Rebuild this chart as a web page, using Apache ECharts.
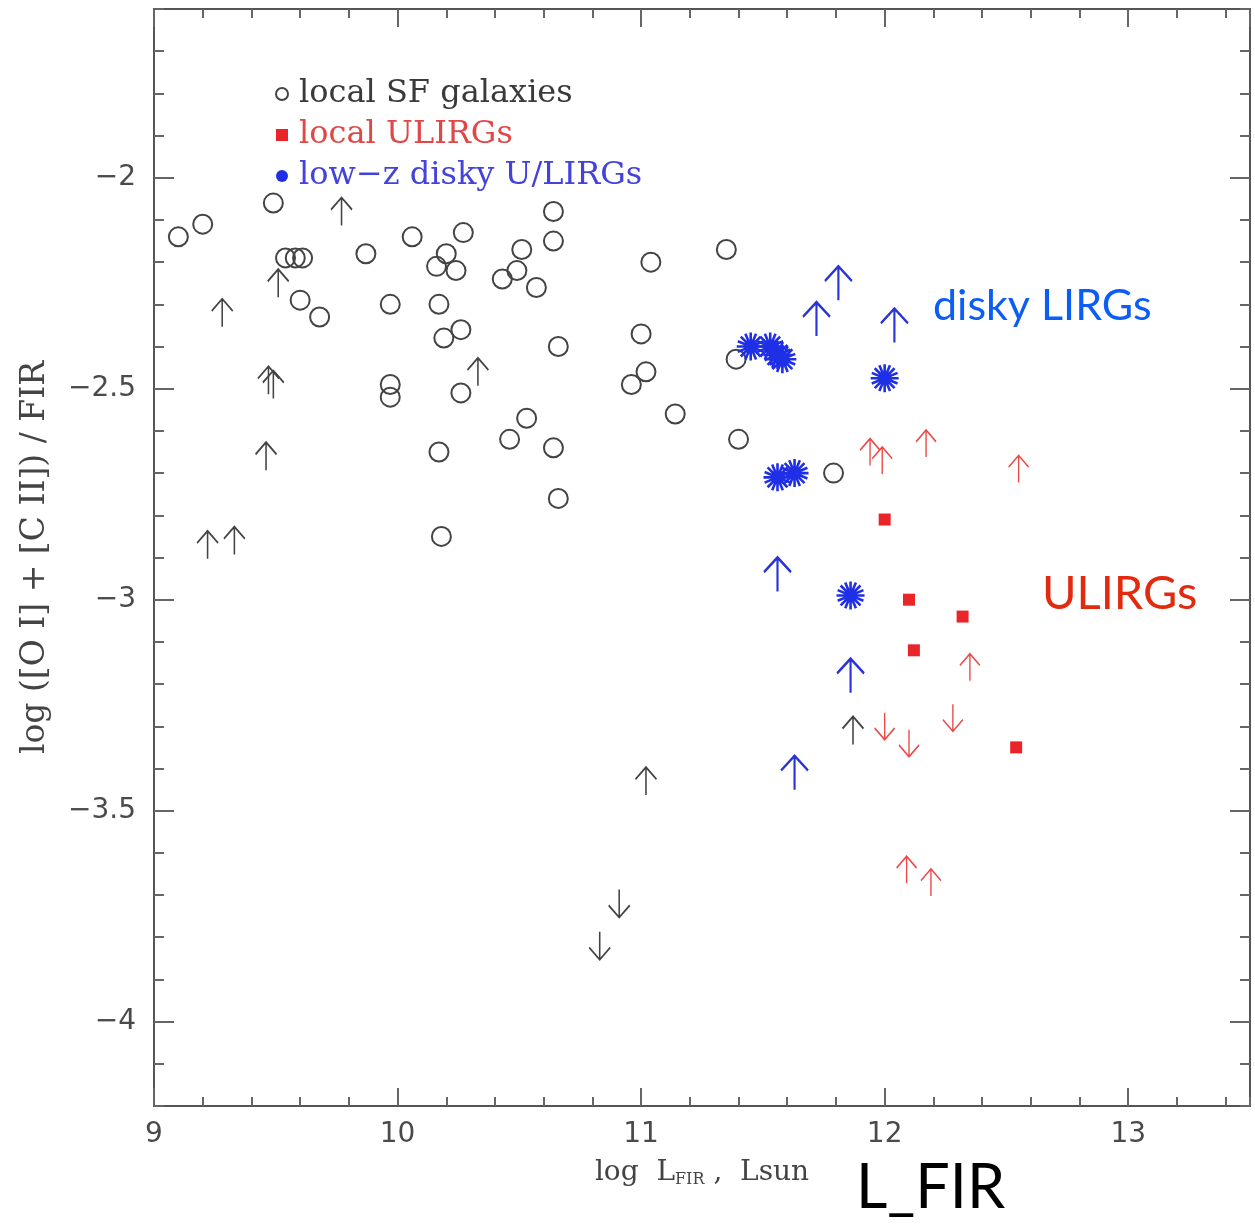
<!DOCTYPE html>
<html>
<head>
<meta charset="utf-8">
<script src="https://cdn.jsdelivr.net/npm/echarts@6/dist/echarts.min.js"></script>
<style>
  html, body { margin: 0; padding: 0; background: #fff; }
  #chart { width: 1255px; height: 1229px; }
</style>
</head>
<body>
<div id="chart"></div>
<script>
// x: log L_FIR, y: log([O I]+[C II])/FIR
var sfGalaxies = [
  [9.10,-2.14],[9.20,-2.11],[9.49,-2.06],[9.54,-2.19],[9.58,-2.19],[9.61,-2.19],
  [9.60,-2.29],[9.68,-2.33],[9.87,-2.18],[9.97,-2.30],[9.97,-2.49],[9.97,-2.52],
  [10.06,-2.14],[10.16,-2.21],[10.20,-2.18],[10.24,-2.22],[10.17,-2.30],[10.19,-2.38],
  [10.26,-2.36],[10.27,-2.13],[10.17,-2.65],[10.18,-2.85],[10.26,-2.51],[10.43,-2.24],
  [10.49,-2.22],[10.51,-2.17],[10.57,-2.26],[10.64,-2.08],[10.64,-2.15],[10.66,-2.40],
  [10.46,-2.62],[10.53,-2.57],[10.64,-2.64],[10.66,-2.76],[11.04,-2.20],[11.00,-2.37],
  [11.02,-2.46],[10.96,-2.49],[11.14,-2.56],[11.35,-2.17],[11.39,-2.43],[11.40,-2.62],
  [11.79,-2.70]
]
var sfUp = [
  [9.28,-2.32],[9.77,-2.08],[9.51,-2.25],[9.47,-2.48],[9.49,-2.49],[9.46,-2.66],
  [9.22,-2.87],[9.33,-2.86],[10.33,-2.46],[11.02,-3.43],[11.87,-3.31]
]
var sfDown = [[10.91,-3.72],[10.83,-3.82]]

var ulirgs = [[12.00,-2.81],[12.10,-3.00],[12.32,-3.04],[12.12,-3.12],[12.54,-3.35]]
var ulirgUp = [
  [11.94,-2.65],[11.99,-2.67],[12.17,-2.63],[12.55,-2.69],[12.35,-3.16],
  [12.09,-3.64],[12.19,-3.67]
]
var ulirgDown = [[12.00,-3.30],[12.10,-3.34],[12.28,-3.28]]

var disky = [
  [11.45,-2.40],[11.53,-2.40],[11.56,-2.42],[11.58,-2.43],[12.00,-2.475],
  [11.56,-2.71],[11.63,-2.70],[11.86,-2.99]
]
var diskyUp = [[11.81,-2.25],[11.72,-2.335],[12.04,-2.35],[11.56,-2.94],[11.86,-3.18],[11.63,-3.41]]

var yMajor = [-4, -3.5, -3, -2.5, -2]

var UP = 'path://M10,0 L10,30 M0,13 L10,0 L20,13'
var DOWN = 'path://M10,30 L10,0 M0,17 L10,30 L20,17'
var STAR = 'path://M10,0 L10,20 M0,10 L20,10 M2.9,2.9 L17.1,17.1 M17.1,2.9 L2.9,17.1 M6.2,0.8 L13.8,19.2 M13.8,0.8 L6.2,19.2 M0.8,6.2 L19.2,13.8 M0.8,13.8 L19.2,6.2'

var gray = '#444'
var red = '#e8262a'
var blue = '#1f2fe6'

var myChart = echarts.init(document.getElementById('chart'))

function minus(v){ return String(v).replace('-', '\u2212') }

var lineStyle = { color: '#555', width: 2 }
var tickFont = { fontFamily: 'DejaVu Sans', fontSize: 28, color: '#4a4a4a' }

function xAx(pos, major, labels){
  return {
    type: 'value', position: pos, min: 9, max: 13.5, interval: major ? 1 : 0.2,
    axisLine: { show: true, onZero: false, lineStyle: lineStyle },
    axisTick: { show: true, inside: true, length: major ? 18 : 9, lineStyle: { color: '#666', width: 2 } },
    axisLabel: { show: labels, margin: 15, showMaxLabel: false, ...tickFont },
    splitLine: { show: false },
    name: labels ? '{a|log  L}{s|FIR}{a| ,  Lsun}' : '',
    nameLocation: 'middle', nameGap: 52,
    nameTextStyle: { rich: {
      a: { fontFamily: 'DejaVu Serif', fontSize: 28, color: '#444' },
      s: { fontFamily: 'DejaVu Serif', fontSize: 16, color: '#444', padding: [14, 0, 0, 0] }
    } }
  }
}
function yAx(pos, major, labels){
  var ax = {
    type: 'value', position: pos, min: -4.2, max: -1.6,
    axisLine: { show: true, onZero: false, lineStyle: lineStyle },
    axisTick: { show: true, inside: true, length: major ? 20 : 10, lineStyle: { color: '#666', width: 2 } },
    axisLabel: { show: labels, margin: 18, formatter: minus, ...tickFont },
    splitLine: { show: false },
    name: labels ? 'log ([O I] + [C II]) / FIR' : '',
    nameLocation: 'middle', nameGap: 102,
    nameTextStyle: { fontFamily: 'DejaVu Serif', fontSize: 33, color: '#444' }
  }
  if (major) {
    ax.axisTick.customValues = yMajor
    ax.axisLabel.customValues = yMajor
  } else {
    ax.interval = 0.1
  }
  return ax
}

function arrows(name, data, sym, color, w, h, lw){
  return {
    name: name, type: 'scatter', data: data, symbol: sym, symbolSize: [w, h],
    itemStyle: { color: 'rgba(0,0,0,0)', borderColor: color, borderWidth: lw, opacity: 1 },
    z: 3
  }
}

var option = {
  backgroundColor: '#fff',
  animation: false,
  grid: { left: 154, right: 5, top: 9, bottom: 123 },
  xAxis: [xAx('bottom', true, true), xAx('bottom', false, false), xAx('top', true, false), xAx('top', false, false)],
  yAxis: [yAx('left', true, true), yAx('left', false, false), yAx('right', true, false), yAx('right', false, false)],
  legend: {
    orient: 'vertical', left: 270, top: 73, itemGap: 9, itemWidth: 12, itemHeight: 12,
    textStyle: { fontFamily: 'DejaVu Serif', fontSize: 32, padding: [0, 0, 0, 6] },
    data: [
      { name: 'local SF galaxies', icon: 'circle', textStyle: { color: '#3a3a3a' },
        itemStyle: { color: 'rgba(0,0,0,0)', borderColor: gray, borderWidth: 2 } },
      { name: 'local ULIRGs', icon: 'rect', textStyle: { color: '#e04848' },
        itemStyle: { color: red, borderWidth: 0 } },
      { name: 'low\u2212z disky U/LIRGs', icon: 'circle', textStyle: { color: '#4343dc' },
        itemStyle: { color: blue, borderWidth: 0 } }
    ]
  },
  series: [
    {
      name: 'local SF galaxies', type: 'scatter', data: sfGalaxies, symbol: 'circle', symbolSize: 19,
      itemStyle: { color: 'rgba(0,0,0,0)', borderColor: gray, borderWidth: 2, opacity: 1 }
    },
    arrows('SF up', sfUp, UP, gray, 21, 28, 1.8),
    arrows('SF down', sfDown, DOWN, gray, 21, 28, 1.8),
    {
      name: 'local ULIRGs', type: 'scatter', data: ulirgs, symbol: 'rect', symbolSize: 12,
      itemStyle: { color: red, opacity: 1 }
    },
    arrows('ULIRG up', ulirgUp, UP, '#ea4a4a', 20, 27, 1.6),
    arrows('ULIRG down', ulirgDown, DOWN, '#ea4a4a', 20, 27, 1.6),
    {
      name: 'low\u2212z disky U/LIRGs', type: 'scatter', data: disky, symbol: STAR, symbolSize: 28,
      itemStyle: { color: 'rgba(0,0,0,0)', borderColor: blue, borderWidth: 2.6, opacity: 1 }, z: 4
    },
    arrows('disky up', diskyUp, UP, '#2a34d6', 27, 34, 2.4)
  ],
  graphic: [
    { type: 'text', left: 933, top: 285, style: { text: 'disky LIRGs', fill: '#0a5ef5', font: '43px Lato' } },
    { type: 'text', left: 1042, top: 570, style: { text: 'ULIRGs', fill: '#e22a0e', font: '47px Lato' } },
    { type: 'text', left: 856, top: 1158, style: { text: 'L_FIR', fill: '#000', font: '61px Lato' } }
  ]
}
myChart.setOption(option)
window.addEventListener('resize', function(){ myChart.resize() })
</script>
</body>
</html>
